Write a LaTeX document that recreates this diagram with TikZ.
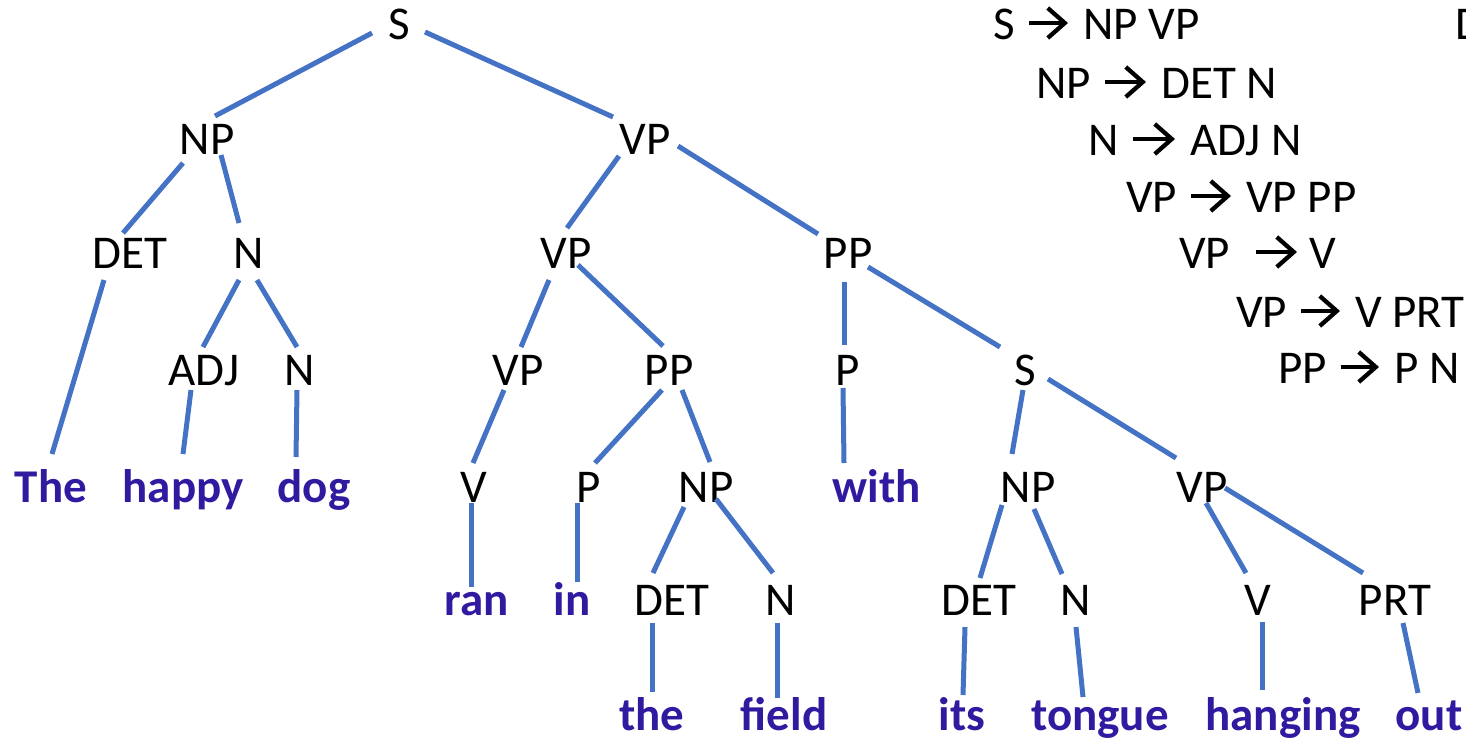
\documentclass[tikz,border=0pt]{standalone}
\usepackage{fontspec}
\setmainfont{Carlito}
\usetikzlibrary{arrows.meta}
\definecolor{edgeblue}{HTML}{4472C4}
\definecolor{wordpurple}{RGB}{50,26,160}
\newcommand\tlink[4]{\draw[branch] ([shift={#2}]#1.base) -- ([shift={#4}]#3.base);}
\newcommand\rlink[2]{\draw[rulearrow] ([shift={(14,-16)}]#1.base east) -- ([shift={(-15,-16)}]#2.base west);}
\begin{document}
\begin{tikzpicture}[x=1pt,y=-1pt,
  lab/.style={inner sep=0pt, anchor=base, font=\fontsize{47}{56}\selectfont},
  word/.style={inner sep=0pt, anchor=base, font=\fontsize{47}{56}\selectfont\bfseries, text=wordpurple},
  rulet/.style={inner sep=0pt, anchor=base west, font=\fontsize{47}{56}\selectfont},
  branch/.style={draw=edgeblue, line width=5pt},
  rulearrow/.style={draw=black, line width=4.3pt, -{Straight Barb[length=17pt, width=30pt]}}]
\useasboundingbox (0,0) rectangle (1466,739);
% row 1
\node[lab] (s1) at (399,39) {S};
% row 2
\node[lab] (np2) at (207,154) {NP};
\node[lab] (vp2) at (645,154) {VP};
% row 3
\node[lab] (det3) at (130,268) {DET};
\node[lab] (n3) at (249,268) {N};
\node[lab] (vp3) at (566,268) {VP};
\node[lab] (pp3) at (848,268) {PP};
% row 4
\node[lab] (adj4) at (204,385) {ADJ};
\node[lab] (n4) at (300,385) {N};
\node[lab] (vp4) at (518,385) {VP};
\node[lab] (pp4) at (669,385) {PP};
\node[lab] (p4) at (848,385) {P};
\node[lab] (s4) at (1025,385) {S};
% row 5
\node[word] (wthe) at (51,502) {The};
\node[word] (whappy) at (183,502) {happy};
\node[word] (wdog) at (314,502) {dog};
\node[lab] (v5) at (474,502) {V};
\node[lab] (p5) at (589,502) {P};
\node[lab] (np5) at (706,502) {NP};
\node[word] (wwith) at (877,502) {with};
\node[lab] (np5b) at (1028,502) {NP};
\node[lab] (vp5) at (1202,502) {VP};
% row 6
\node[word] (wran) at (477,615) {ran};
\node[word] (win) at (572,615) {in};
\node[lab] (det6) at (672,615) {DET};
\node[lab] (n6) at (781,615) {N};
\node[lab] (det6b) at (979,615) {DET};
\node[lab] (n6b) at (1076,615) {N};
\node[lab] (v6) at (1258,615) {V};
\node[lab] (prt6) at (1395,615) {PRT};
% row 7
\node[word] (wthe2) at (652,730) {the};
\node[word] (wfield) at (784,730) {field};
\node[word] (wits) at (962,730) {its};
\node[word] (wtongue) at (1100,730) {tongue};
\node[word] (whanging) at (1283,730) {hanging};
\node[word] (wout) at (1429,730) {out};
% grammar rules: left side, right side, arrow between
\node[rulet] (r1a) at (993,39) {S};
\node[rulet] (r1b) at (1083,39) {NP VP};
\node[rulet] (r2a) at (1036,98) {NP};
\node[rulet] (r2b) at (1161,98) {DET N};
\node[rulet] (r3a) at (1088,155) {N};
\node[rulet] (r3b) at (1190,155) {ADJ N};
\node[rulet] (r4a) at (1126,212) {VP};
\node[rulet] (r4b) at (1246,212) {VP PP};
\node[rulet] (r5a) at (1179,268) {VP};
\node[rulet] (r5b) at (1309,268) {V};
\node[rulet] (r6a) at (1236,327) {VP};
\node[rulet] (r6b) at (1355,327) {V PRT};
\node[rulet] (r7a) at (1278,383) {PP};
\node[rulet] (r7b) at (1394,383) {P N};
\node[rulet] (r8a) at (1455,39) {D};
\rlink{r1a}{r1b}
\rlink{r2a}{r2b}
\rlink{r3a}{r3b}
\rlink{r4a}{r4b}
\draw[rulearrow] ([shift={(26,-16)}]r5a.base east) -- ([shift={(-12,-16)}]r5b.base west);
\rlink{r6a}{r6b}
\rlink{r7a}{r7b}
% branches
\tlink{s1}{(-27,-6)}{np2}{(8,-38)}
\tlink{s1}{(26,-7)}{vp2}{(-32,-37)}
\tlink{np2}{(-24,9)}{det3}{(-7,-35)}
\tlink{np2}{(14,1)}{n3}{(-10,-45)}
\tlink{det3}{(-26,12)}{wthe}{(1,-48)}
\tlink{n3}{(-10,12)}{adj4}{(-1,-38)}
\tlink{n3}{(8,12)}{n4}{(-3,-38)}
\tlink{adj4}{(-13,5)}{whappy}{(0,-48)}
\tlink{n4}{(-3,5)}{wdog}{(-18,-45)}
\tlink{vp2}{(-26,2)}{vp3}{(1,-40)}
\tlink{vp2}{(33,-8)}{pp3}{(-30,-34)}
\tlink{vp3}{(-17,12)}{vp4}{(3,-38)}
\tlink{vp3}{(12,-3)}{pp4}{(-6,-39)}
\tlink{pp3}{(-4,14)}{p4}{(-4,-40)}
\tlink{pp3}{(20,-1)}{s4}{(-25,-38)}
\tlink{vp4}{(-14,5)}{v5}{(-1,-39)}
\tlink{pp4}{(-7,5)}{p5}{(6,-39)}
\tlink{pp4}{(13,5)}{np5}{(4,-40)}
\tlink{p4}{(-5,3)}{wwith}{(-33,-39)}
\tlink{s4}{(-2,5)}{np5b}{(-16,-48)}
\tlink{s4}{(23,-6)}{vp5}{(-26,-44)}
\tlink{v5}{(-3,1)}{wran}{(-6,-28)}
\tlink{p5}{(-12,1)}{win}{(5,-33)}
\tlink{np5}{(-22,5)}{det6}{(-19,-42)}
\tlink{np5}{(10,-3)}{n6}{(-8,-42)}
\tlink{np5b}{(-26,3)}{det6b}{(1,-37)}
\tlink{np5b}{(6,7)}{n6b}{(-14,-41)}
\tlink{vp5}{(4,1)}{v6}{(-12,-42)}
\tlink{vp5}{(23,-14)}{prt6}{(-32,-42)}
\tlink{det6}{(-20,8)}{wthe2}{(0,-38)}
\tlink{n6}{(-4,8)}{wfield}{(-7,-32)}
\tlink{det6b}{(-14,12)}{wits}{(1,-35)}
\tlink{n6b}{(0,12)}{wtongue}{(-17,-33)}
\tlink{v6}{(4,7)}{whanging}{(-21,-40)}
\tlink{prt6}{(8,8)}{wout}{(-11,-37)}
\end{tikzpicture}
\end{document}
